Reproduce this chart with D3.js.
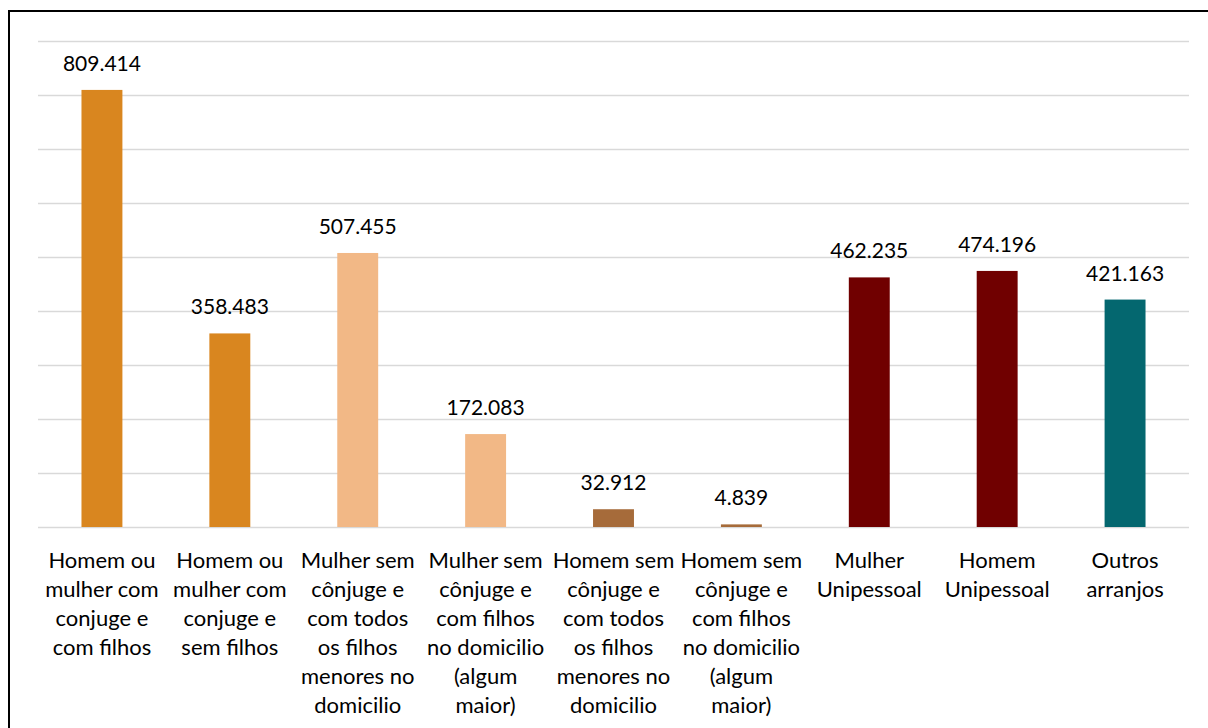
<!DOCTYPE html>
<html><head><meta charset="utf-8">
<script src="https://cdn.jsdelivr.net/npm/d3@7"></script>
<style>body{margin:0;background:#fff;} svg{display:block;}</style>
</head><body>
<svg id="c" width="1208" height="728"></svg>
<script>
const categories = [
  ["Homem ou","mulher com","conjuge e","com filhos"],
  ["Homem ou","mulher com","conjuge e","sem filhos"],
  ["Mulher sem","cônjuge e","com todos","os filhos","menores no","domicilio"],
  ["Mulher sem","cônjuge e","com filhos","no domicilio","(algum","maior)"],
  ["Homem sem","cônjuge e","com todos","os filhos","menores no","domicilio"],
  ["Homem sem","cônjuge e","com filhos","no domicilio","(algum","maior)"],
  ["Mulher","Unipessoal"],
  ["Homem","Unipessoal"],
  ["Outros","arranjos"]
];
const values = [809.414, 358.483, 507.455, 172.083, 32.912, 4.839, 462.235, 474.196, 421.163];
const valueLabels = ["809.414","358.483","507.455","172.083","32.912","4.839","462.235","474.196","421.163"];
const colors = ["#D9861F","#D9861F","#F2B886","#F2B886","#A66B3A","#A66B3A","#700000","#700000","#04676F"];
const gridTicks = [0,100,200,300,400,500,600,700,800,900];

const svg = d3.select("#c");
const m = {left:38, right:1189, top:41, bottom:527};
const x = d3.scaleBand().domain(d3.range(categories.length)).range([m.left, m.right]).paddingInner(0.68).paddingOuter(0.34);
const y = d3.scaleLinear().domain([0,900]).range([m.bottom, m.top]);

svg.append("rect").attr("x",9).attr("y",11).attr("width",1220).attr("height",740)
  .attr("fill","none").attr("stroke","#000").attr("stroke-width",2);

svg.append("g").selectAll("line").data(gridTicks).join("line")
  .attr("x1",m.left).attr("x2",m.right)
  .attr("y1",d=>Math.round(y(d))+0.5).attr("y2",d=>Math.round(y(d))+0.5)
  .attr("stroke","#d9d9d9").attr("stroke-width",1.5);

svg.append("g").selectAll("rect").data(values).join("rect")
  .attr("x",(d,i)=>x(i)).attr("width",x.bandwidth())
  .attr("y",d=>y(d)).attr("height",d=>y(0)-y(d))
  .attr("fill",(d,i)=>colors[i]);

const font = "Lato, 'Open Sans', sans-serif";
svg.append("g").selectAll("text").data(values).join("text")
  .attr("x",(d,i)=>x(i)+x.bandwidth()/2).attr("y",d=>y(d)-19)
  .attr("text-anchor","middle").attr("font-family",font).attr("font-size",21)
  .attr("fill","#000").text((d,i)=>valueLabels[i]);

const lab = svg.append("g");
categories.forEach((lines,i)=>{
  const t = lab.append("text").attr("text-anchor","middle").attr("font-family",font)
    .attr("font-size",22).attr("fill","#000");
  lines.forEach((l,j)=>{
    t.append("tspan").attr("x",x(i)+x.bandwidth()/2).attr("y",568+j*29).text(l);
  });
});
</script>
</body></html>
